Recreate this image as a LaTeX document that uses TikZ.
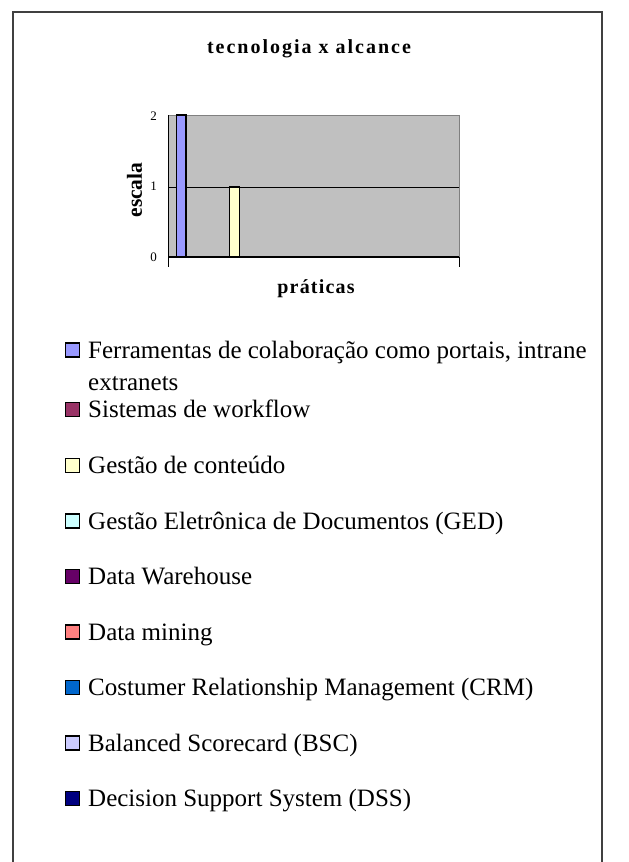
\documentclass[tikz,border=0pt]{standalone}
\usepackage{fontspec}
\setmainfont{Liberation Serif}
\newfontfamily\titlefont[LetterSpace=10]{Liberation Serif}
\newfontfamily\axisfont[LetterSpace=6]{Liberation Serif}
\definecolor{cA}{HTML}{9999FF}
\definecolor{cB}{HTML}{993366}
\definecolor{cC}{HTML}{FFFFCC}
\definecolor{cD}{HTML}{CCFFFF}
\definecolor{cE}{HTML}{660066}
\definecolor{cF}{HTML}{FF8080}
\definecolor{cG}{HTML}{0066CC}
\definecolor{cH}{HTML}{CCCCFF}
\definecolor{cI}{HTML}{000080}
\definecolor{plotgray}{HTML}{C0C0C0}
\definecolor{framedark}{HTML}{404040}
\tikzset{
  legbox/.style={draw=black, line width=1.4pt, minimum size=14pt, inner sep=0pt},
  legtext/.style={anchor=base west, inner sep=0pt, font=\fontsize{25}{28}\selectfont},
  ticklab/.style={anchor=east, inner sep=0pt, font=\fontsize{13}{15}\selectfont},
  barbox/.style={draw=black, line width=1.3pt},
  frameline/.style={draw=framedark, line width=1.6pt}
}
\begin{document}
\begin{tikzpicture}[x=1pt,y=-1pt]
\useasboundingbox (0,0) rectangle (629,862);
% frame
\coordinate (ftl) at (13,12);
\coordinate (ftr) at (602,12);
\coordinate (fbl) at (13,862);
\coordinate (fbr) at (602,862);
\draw[frameline] (fbl) -- (ftl) -- (ftr) -- (fbr);
% plot area
\fill[plotgray] (168,115) rectangle (459,257);
\draw[gray, line width=0.8pt] (168,115) -- (459,115) -- (459,257);
\coordinate (g1a) at (168,187);
\coordinate (g1b) at (459,187);
\draw[black, line width=0.7pt] (g1a) -- (g1b);
% bars
\draw[barbox, fill=cA] (176.5,115) rectangle (186,257);
\draw[barbox, fill=cC] (229.5,187) rectangle (239.5,257);
% axes
\coordinate (ax0) at (168,257);
\coordinate (ax1) at (459,257);
\draw[black, line width=0.9pt] (168,115) -- (168,267);
\draw[black, line width=1.1pt] (ax0) -- (ax1);
\draw[black, line width=0.9pt] (ax1) -- (459,267);
% tick labels
\node[ticklab] (y2) at (157,116) {2};
\node[ticklab] (y1) at (157,186) {1};
\node[ticklab] (y0) at (157,257) {0};
% titles
\node[anchor=base, inner sep=0pt, font=\titlefont\bfseries\fontsize{20}{24}\selectfont] (title) at (309,53) {tecnologia x alcance};
\node[rotate=90, inner sep=0pt, font=\bfseries\fontsize{21.5}{24}\selectfont] (ylab) at (134.5,190) {escala};
\node[anchor=base, inner sep=0pt, font=\axisfont\bfseries\fontsize{20}{24}\selectfont] (xlab) at (316,293) {práticas};
% legend
\node[legbox, fill=cA] (k1) at (72.5,350) {};
\node[legtext] (t1) at (88,358) {Ferramentas de colaboração como portais, intrane};
\node[legtext] (t1b) at (88,390) {extranets};
\node[legbox, fill=cB] (k2) at (72.5,409.5) {};
\node[legtext] (t2) at (88,417) {Sistemas de workflow};
\node[legbox, fill=cC] (k3) at (72.5,465.5) {};
\node[legtext] (t3) at (88,473.5) {Gestão de conteúdo};
\node[legbox, fill=cD] (k4) at (72.5,521) {};
\node[legtext] (t4) at (88,529) {Gestão Eletrônica de Documentos (GED)};
\node[legbox, fill=cE] (k5) at (72.5,576.5) {};
\node[legtext] (t5) at (88,584.5) {Data Warehouse};
\node[legbox, fill=cF] (k6) at (72.5,632) {};
\node[legtext] (t6) at (88,640) {Data mining};
\node[legbox, fill=cG] (k7) at (72.5,687.5) {};
\node[legtext] (t7) at (88,695.5) {Costumer Relationship Management (CRM)};
\node[legbox, fill=cH] (k8) at (72.5,743) {};
\node[legtext] (t8) at (88,751) {Balanced Scorecard (BSC)};
\node[legbox, fill=cI] (k9) at (72.5,798.5) {};
\node[legtext] (t9) at (88,806.5) {Decision Support System (DSS)};
\end{tikzpicture}
\end{document}
